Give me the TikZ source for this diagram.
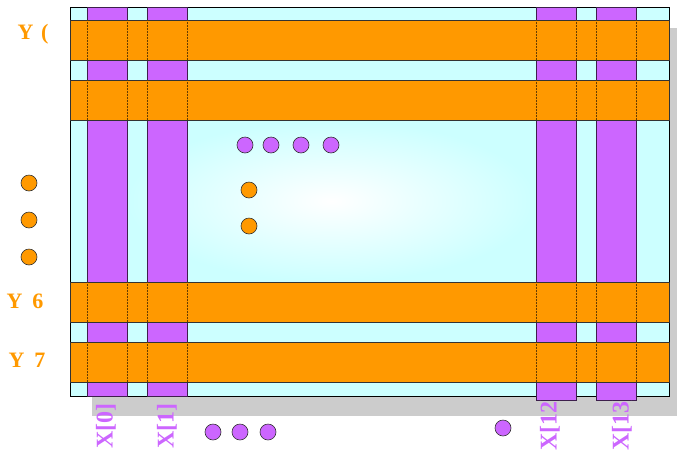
\documentclass[tikz,border=0pt]{standalone}
\usepackage{fontspec}
\setmainfont{Liberation Serif}
\usetikzlibrary{calc}
\definecolor{cyanbg}{HTML}{CCFFFF}
\definecolor{orng}{HTML}{FF9900}
\definecolor{purp}{HTML}{CC66FF}
\definecolor{shadowgray}{HTML}{CCCCCC}
\tikzset{
  vbar/.style={fill=purp, draw=black!70!purp, line width=0.8pt},
  hbar/.style={fill=orng, draw=black!80, line width=0.8pt},
  seam/.style={draw=black!60!orng, line width=0.5pt, densely dotted},
  pdot/.style={circle, fill=purp, draw=black!80, line width=0.6pt, minimum size=16pt, inner sep=0pt},
  odot/.style={circle, fill=orng, draw=black!80, line width=0.6pt, minimum size=16pt, inner sep=0pt},
  ylab/.style={text=orng, font=\bfseries\fontsize{22}{22}\selectfont},
  xlab/.style={text=purp, font=\bfseries\fontsize{24}{24}\selectfont, rotate=90},
}
\begin{document}
\begin{tikzpicture}[x=1pt,y=-1pt]
\useasboundingbox (0,0) rectangle (677,456);
% shadow
\fill[shadowgray] (92,28) rectangle (677,416);
% background
\fill[cyanbg] (70,7) rectangle (669,396);
\shade[inner color=white, outer color=cyanbg] (127,120) rectangle (536,282);
\draw[black, line width=0.8pt] (70,7) rectangle (669,396);
% vertical bars
\draw[vbar] (87,7) rectangle (127,396);
\draw[vbar] (147,7) rectangle (187,396);
\draw[vbar] (536,7) rectangle (576,400);
\draw[vbar] (596,7) rectangle (636,400);
% horizontal bars
\foreach \ya/\yb in {20/60, 80/120, 282/322, 342/382}{
  \draw[hbar] (70,\ya) rectangle (669,\yb);
  \foreach \xx in {87,127,147,187,536,576,596,636}{
    \draw[seam] (\xx,\ya) -- (\xx,\yb);
  }
}
% labels
\node[ylab] (y0) at (33,34) {Y\hspace{0.35em}(};
\node[ylab] (y6) at (25,301) {Y\hspace{0.45em}6};
\node[ylab] (y7) at (27,360) {Y\hspace{0.45em}7};
\node[xlab] (x0) at (106,426) {X[0]};
\node[xlab] (x1) at (167,426) {X[1]};
\node[xlab] (x12) at (550,422) {X[12]};
\node[xlab] (x13) at (622,422) {X[13]};
% dots
\node[odot] (l1) at (29,183) {};
\node[odot] (l2) at (29,220) {};
\node[odot] (l3) at (29,257) {};
\node[pdot] (p1) at (245,145) {};
\node[pdot] (p2) at (271,145) {};
\node[pdot] (p3) at (301,145) {};
\node[pdot] (p4) at (331,145) {};
\node[odot] (o1) at (249,190) {};
\node[odot] (o2) at (249,226) {};
\node[pdot] (b1) at (213,432) {};
\node[pdot] (b2) at (240,432) {};
\node[pdot] (b3) at (268,432) {};
\node[pdot] (b4) at (503,428) {};
\end{tikzpicture}
\end{document}
